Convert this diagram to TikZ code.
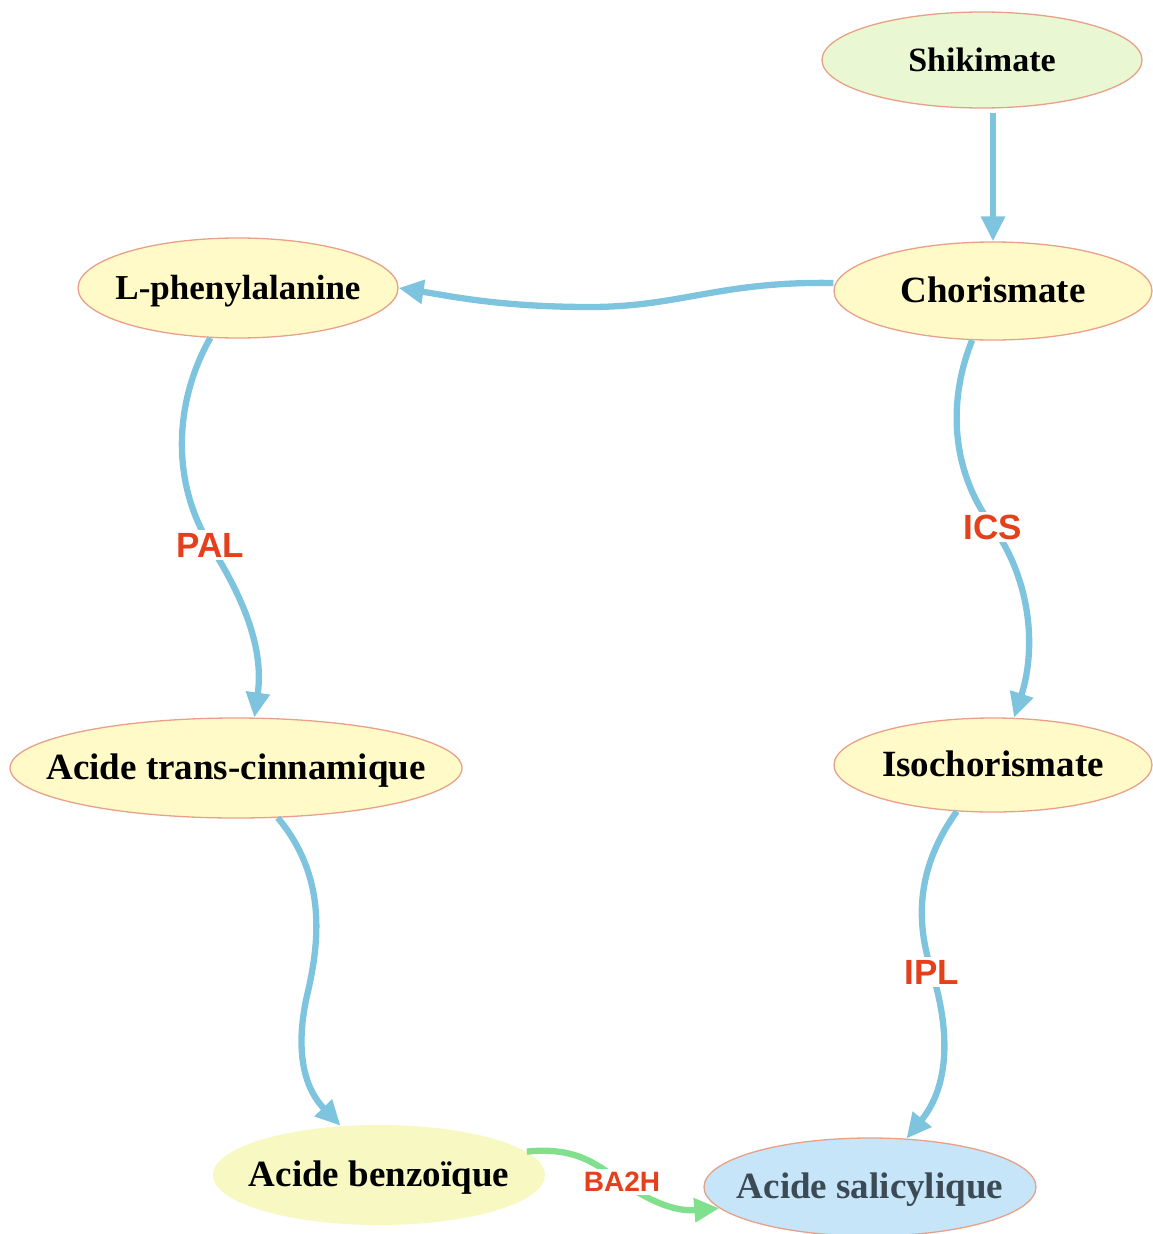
\documentclass[tikz,border=0pt]{standalone}
\usepackage{fontspec}
\setmainfont{Liberation Serif}
\newfontfamily\labfont{Liberation Sans}
\usetikzlibrary{shapes.geometric,arrows.meta}
\definecolor{edgeblue}{HTML}{7EC4DE}
\definecolor{edgegreen}{HTML}{80E08E}
\definecolor{labred}{HTML}{E4401C}
\definecolor{bordr}{HTML}{E8A088}
\definecolor{fillyel}{HTML}{FFFAC8}
\definecolor{fillgrn}{HTML}{E9F8D2}
\definecolor{fillbenz}{HTML}{F7F8C2}
\definecolor{fillblue}{HTML}{C6E5F9}
\definecolor{saltext}{HTML}{3C4A55}
\tikzset{
  mol/.style={ellipse, draw=bordr, line width=1.3pt, fill=fillyel, inner sep=0pt},
  moltext/.style={inner sep=0pt, text height=23pt, text depth=0pt,
    font=\bfseries\fontsize{37}{40}\selectfont, text=black},
  conn/.style={draw=edgeblue, line width=6.3pt, -{Triangle[length=25pt,width=23pt]}},
  gconn/.style={draw=edgegreen, line width=6.3pt, -{Triangle[length=25pt,width=23pt]}},
  enz/.style={fill=white, inner sep=3pt, text=labred, font=\labfont\bfseries\fontsize{35}{38}\selectfont},
}
\begin{document}
\begin{tikzpicture}[x=1pt,y=-1pt]
\useasboundingbox (0,0) rectangle (1152,1234);
\node[mol, fill=fillgrn, minimum width=320pt, minimum height=96pt] (shik) at (982,60) {};
\node[mol, minimum width=318pt, minimum height=98pt] (chor) at (993,291) {};
\node[mol, minimum width=320pt, minimum height=100pt] (lphe) at (238,288) {};
\node[mol, minimum width=452pt, minimum height=100pt] (cinn) at (236,768) {};
\node[mol, minimum width=318pt, minimum height=94pt] (iso) at (993,765) {};
\node[mol, draw=none, fill=fillbenz, minimum width=332pt, minimum height=100pt] (benz) at (379,1175) {};
\node[mol, fill=fillblue, minimum width=332pt, minimum height=98pt] (sal) at (870,1187) {};

\node[moltext, font=\bfseries\fontsize{34}{38}\selectfont] (shikt) at (shik) {Shikimate};
\node[moltext] (chort) at (chor) {Chorismate};
\node[moltext, font=\bfseries\fontsize{35}{40}\selectfont] (lphet) at (lphe) {L-phenylalanine};
\node[moltext] (cinnt) at (cinn) {Acide trans-cinnamique};
\node[moltext] (isot) at (iso) {Isochorismate};
\node[moltext] (benzt) at (benz) {Acide benzoïque};
\node[moltext, text=saltext] (salt) at (sal) {Acide salicylique};

% edges
\draw[conn] ([yshift=-4pt]chor.north |- shik.south) -- (chor.north);
\draw[conn] ([yshift=8pt]chor.west) .. controls (720,281) and (680,307) .. (590,307)
   .. controls (500,307) and (450,296) .. (lphe.east);
\draw[conn] (lphe.241) .. controls (175,400) and (170,480) .. (210,545)
   coordinate (palpt) .. controls (245,600) and (264,650) .. (cinn.70);
\draw[conn] (chor.247) .. controls (948,400) and (950,470) .. (993,527)
   coordinate (icspt) .. controls (1032,582) and (1036,650) .. (iso.66);
\draw[conn] (cinn.310) .. controls (330,880) and (318,950) .. (306,1000)
   .. controls (294,1060) and (308,1092) .. (benz.128);
\draw[conn] (iso.232) .. controls (922,860) and (912,912) .. (932,972)
   coordinate (iplpt) .. controls (950,1030) and (950,1085) .. (sal.53);
\draw[gconn] (benz.9) .. controls (580,1146) and (600,1168) .. (622,1182)
   coordinate (bapt) .. controls (645,1198) and (672,1212) .. (sal.188);

% enzyme labels
\node[enz] (pal) at (palpt) {PAL};
\node[enz] (ics) at (icspt) {ICS};
\node[enz] (ipl) at (iplpt) {IPL};
\node[enz, font=\labfont\bfseries\fontsize{28}{30}\selectfont] (ba2h) at (bapt) {BA2H};
\end{tikzpicture}
\end{document}
